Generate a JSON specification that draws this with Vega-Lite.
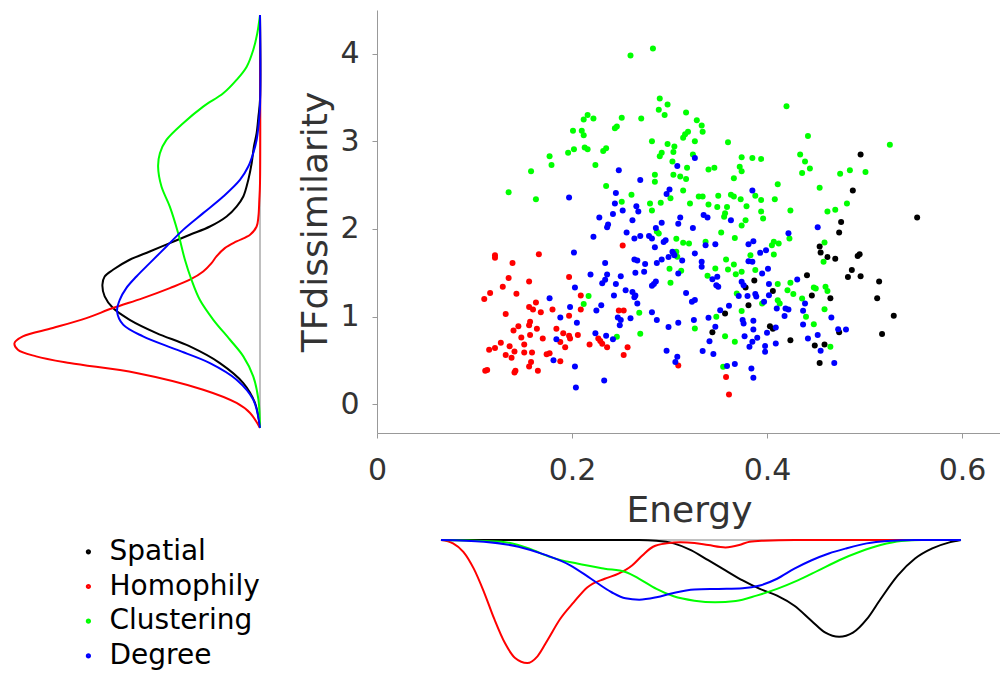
{
"$schema": "https://vega.github.io/schema/vega-lite/v6.json",
"background": "white",
"padding": {"left": 10, "top": 10, "right": 0, "bottom": 0},
"autosize": {"type": "pad"},
"config": {"view": {"stroke": null}, "font": "DejaVu Sans"},
"datasets": {
"points": [
{"model":"Spatial","energy":0.554,"tf":2.13},{"model":"Spatial","energy":0.476,"tf":2.08},{"model":"Spatial","energy":0.474,"tf":1.96},{"model":"Spatial","energy":0.454,"tf":1.80},{"model":"Spatial","energy":0.455,"tf":1.73},{"model":"Spatial","energy":0.462,"tf":1.68},{"model":"Spatial","energy":0.470,"tf":1.66},{"model":"Spatial","energy":0.493,"tf":1.69},{"model":"Spatial","energy":0.495,"tf":1.71},{"model":"Spatial","energy":0.487,"tf":1.53},{"model":"Spatial","energy":0.483,"tf":1.45},{"model":"Spatial","energy":0.496,"tf":1.46},{"model":"Spatial","energy":0.515,"tf":1.40},{"model":"Spatial","energy":0.513,"tf":1.21},{"model":"Spatial","energy":0.530,"tf":1.01},{"model":"Spatial","energy":0.518,"tf":0.80},{"model":"Spatial","energy":0.441,"tf":1.47},{"model":"Spatial","energy":0.446,"tf":1.24},{"model":"Spatial","energy":0.465,"tf":1.21},{"model":"Spatial","energy":0.387,"tf":1.41},{"model":"Spatial","energy":0.378,"tf":1.33},{"model":"Spatial","energy":0.406,"tf":1.29},{"model":"Spatial","energy":0.381,"tf":1.13},{"model":"Spatial","energy":0.357,"tf":1.035},{"model":"Spatial","energy":0.344,"tf":0.82},{"model":"Spatial","energy":0.403,"tf":0.89},{"model":"Spatial","energy":0.406,"tf":0.86},{"model":"Spatial","energy":0.424,"tf":0.73},{"model":"Spatial","energy":0.449,"tf":0.67},{"model":"Spatial","energy":0.459,"tf":0.68},{"model":"Spatial","energy":0.454,"tf":0.47},{"model":"Spatial","energy":0.474,"tf":0.82},{"model":"Spatial","energy":0.496,"tf":2.85},{"model":"Spatial","energy":0.488,"tf":2.44},
{"model":"Homophily","energy":0.121,"tf":1.70},{"model":"Homophily","energy":0.121,"tf":1.67},{"model":"Homophily","energy":0.166,"tf":1.71},{"model":"Homophily","energy":0.139,"tf":1.61},{"model":"Homophily","energy":0.135,"tf":1.44},{"model":"Homophily","energy":0.156,"tf":1.40},{"model":"Homophily","energy":0.129,"tf":1.34},{"model":"Homophily","energy":0.116,"tf":1.27},{"model":"Homophily","energy":0.110,"tf":1.20},{"model":"Homophily","energy":0.143,"tf":1.26},{"model":"Homophily","energy":0.252,"tf":1.81},{"model":"Homophily","energy":0.197,"tf":1.45},{"model":"Homophily","energy":0.209,"tf":1.24},{"model":"Homophily","energy":0.209,"tf":1.08},{"model":"Homophily","energy":0.197,"tf":1.01},{"model":"Homophily","energy":0.163,"tf":1.16},{"model":"Homophily","energy":0.156,"tf":1.11},{"model":"Homophily","energy":0.160,"tf":1.08},{"model":"Homophily","energy":0.168,"tf":1.05},{"model":"Homophily","energy":0.180,"tf":1.08},{"model":"Homophily","energy":0.132,"tf":1.03},{"model":"Homophily","energy":0.157,"tf":0.94},{"model":"Homophily","energy":0.145,"tf":0.89},{"model":"Homophily","energy":0.140,"tf":0.84},{"model":"Homophily","energy":0.156,"tf":0.90},{"model":"Homophily","energy":0.164,"tf":0.86},{"model":"Homophily","energy":0.148,"tf":0.76},{"model":"Homophily","energy":0.157,"tf":0.79},{"model":"Homophily","energy":0.170,"tf":0.75},{"model":"Homophily","energy":0.184,"tf":0.86},{"model":"Homophily","energy":0.191,"tf":0.81},{"model":"Homophily","energy":0.197,"tf":0.78},{"model":"Homophily","energy":0.198,"tf":0.75},{"model":"Homophily","energy":0.206,"tf":0.79},{"model":"Homophily","energy":0.127,"tf":0.70},{"model":"Homophily","energy":0.115,"tf":0.62},{"model":"Homophily","energy":0.121,"tf":0.64},{"model":"Homophily","energy":0.136,"tf":0.66},{"model":"Homophily","energy":0.141,"tf":0.60},{"model":"Homophily","energy":0.151,"tf":0.68},{"model":"Homophily","energy":0.151,"tf":0.59},{"model":"Homophily","energy":0.159,"tf":0.59},{"model":"Homophily","energy":0.132,"tf":0.56},{"model":"Homophily","energy":0.138,"tf":0.53},{"model":"Homophily","energy":0.177,"tf":0.58},{"model":"Homophily","energy":0.174,"tf":0.57},{"model":"Homophily","energy":0.193,"tf":0.65},{"model":"Homophily","energy":0.188,"tf":0.71},{"model":"Homophily","energy":0.218,"tf":0.68},{"model":"Homophily","energy":0.227,"tf":0.75},{"model":"Homophily","energy":0.229,"tf":0.72},{"model":"Homophily","energy":0.231,"tf":0.69},{"model":"Homophily","energy":0.236,"tf":0.65},{"model":"Homophily","energy":0.248,"tf":1.07},{"model":"Homophily","energy":0.253,"tf":1.07},{"model":"Homophily","energy":0.257,"tf":0.65},{"model":"Homophily","energy":0.253,"tf":0.56},{"model":"Homophily","energy":0.188,"tf":0.49},{"model":"Homophily","energy":0.158,"tf":0.48},{"model":"Homophily","energy":0.156,"tf":0.43},{"model":"Homophily","energy":0.165,"tf":0.38},{"model":"Homophily","energy":0.142,"tf":0.38},{"model":"Homophily","energy":0.141,"tf":0.36},{"model":"Homophily","energy":0.113,"tf":0.39},{"model":"Homophily","energy":0.111,"tf":0.38},{"model":"Homophily","energy":0.309,"tf":0.44},{"model":"Homophily","energy":0.358,"tf":0.31},{"model":"Homophily","energy":0.361,"tf":0.11},
{"model":"Clustering","energy":0.260,"tf":3.98},{"model":"Clustering","energy":0.283,"tf":4.06},{"model":"Clustering","energy":0.290,"tf":3.49},{"model":"Clustering","energy":0.298,"tf":3.42},{"model":"Clustering","energy":0.289,"tf":3.36},{"model":"Clustering","energy":0.295,"tf":3.30},{"model":"Clustering","energy":0.317,"tf":3.33},{"model":"Clustering","energy":0.212,"tf":3.25},{"model":"Clustering","energy":0.216,"tf":3.30},{"model":"Clustering","energy":0.222,"tf":3.26},{"model":"Clustering","energy":0.251,"tf":3.27},{"model":"Clustering","energy":0.271,"tf":3.26},{"model":"Clustering","energy":0.201,"tf":3.12},{"model":"Clustering","energy":0.210,"tf":3.12},{"model":"Clustering","energy":0.212,"tf":3.07},{"model":"Clustering","energy":0.244,"tf":3.15},{"model":"Clustering","energy":0.246,"tf":3.17},{"model":"Clustering","energy":0.282,"tf":3.00},{"model":"Clustering","energy":0.314,"tf":3.04},{"model":"Clustering","energy":0.316,"tf":3.08},{"model":"Clustering","energy":0.319,"tf":3.11},{"model":"Clustering","energy":0.326,"tf":3.00},{"model":"Clustering","energy":0.196,"tf":2.87},{"model":"Clustering","energy":0.202,"tf":2.91},{"model":"Clustering","energy":0.213,"tf":2.93},{"model":"Clustering","energy":0.216,"tf":2.91},{"model":"Clustering","energy":0.232,"tf":2.89},{"model":"Clustering","energy":0.235,"tf":2.92},{"model":"Clustering","energy":0.298,"tf":2.97},{"model":"Clustering","energy":0.305,"tf":2.94},{"model":"Clustering","energy":0.292,"tf":2.87},{"model":"Clustering","energy":0.290,"tf":2.83},{"model":"Clustering","energy":0.304,"tf":2.88},{"model":"Clustering","energy":0.324,"tf":2.85},{"model":"Clustering","energy":0.177,"tf":2.83},{"model":"Clustering","energy":0.179,"tf":2.73},{"model":"Clustering","energy":0.224,"tf":2.73},{"model":"Clustering","energy":0.303,"tf":2.77},{"model":"Clustering","energy":0.318,"tf":2.70},{"model":"Clustering","energy":0.158,"tf":2.66},{"model":"Clustering","energy":0.285,"tf":2.62},{"model":"Clustering","energy":0.285,"tf":2.54},{"model":"Clustering","energy":0.304,"tf":2.62},{"model":"Clustering","energy":0.311,"tf":2.60},{"model":"Clustering","energy":0.317,"tf":2.57},{"model":"Clustering","energy":0.235,"tf":2.49},{"model":"Clustering","energy":0.261,"tf":2.39},{"model":"Clustering","energy":0.314,"tf":2.44},{"model":"Clustering","energy":0.135,"tf":2.42},{"model":"Clustering","energy":0.163,"tf":2.34},{"model":"Clustering","energy":0.251,"tf":2.31},{"model":"Clustering","energy":0.280,"tf":2.29},{"model":"Clustering","energy":0.291,"tf":2.30},{"model":"Clustering","energy":0.301,"tf":2.35},{"model":"Clustering","energy":0.321,"tf":2.29},{"model":"Clustering","energy":0.282,"tf":2.21},
{"model":"Clustering","energy":0.420,"tf":3.40},{"model":"Clustering","energy":0.442,"tf":3.06},{"model":"Clustering","energy":0.526,"tf":2.96},{"model":"Clustering","energy":0.328,"tf":3.24},{"model":"Clustering","energy":0.333,"tf":3.18},{"model":"Clustering","energy":0.334,"tf":3.11},{"model":"Clustering","energy":0.360,"tf":2.99},{"model":"Clustering","energy":0.374,"tf":2.82},{"model":"Clustering","energy":0.385,"tf":2.81},{"model":"Clustering","energy":0.394,"tf":2.80},{"model":"Clustering","energy":0.340,"tf":2.68},{"model":"Clustering","energy":0.346,"tf":2.70},{"model":"Clustering","energy":0.372,"tf":2.71},{"model":"Clustering","energy":0.374,"tf":2.66},{"model":"Clustering","energy":0.366,"tf":2.58},{"model":"Clustering","energy":0.434,"tf":2.85},{"model":"Clustering","energy":0.439,"tf":2.77},{"model":"Clustering","energy":0.444,"tf":2.69},{"model":"Clustering","energy":0.436,"tf":2.64},{"model":"Clustering","energy":0.475,"tf":2.63},{"model":"Clustering","energy":0.485,"tf":2.67},{"model":"Clustering","energy":0.501,"tf":2.65},{"model":"Clustering","energy":0.411,"tf":2.51},{"model":"Clustering","energy":0.454,"tf":2.47},{"model":"Clustering","energy":0.482,"tf":2.29},{"model":"Clustering","energy":0.330,"tf":2.37},{"model":"Clustering","energy":0.334,"tf":2.37},{"model":"Clustering","energy":0.350,"tf":2.38},{"model":"Clustering","energy":0.363,"tf":2.39},{"model":"Clustering","energy":0.366,"tf":2.37},{"model":"Clustering","energy":0.373,"tf":2.34},{"model":"Clustering","energy":0.388,"tf":2.38},{"model":"Clustering","energy":0.394,"tf":2.33},{"model":"Clustering","energy":0.408,"tf":2.34},{"model":"Clustering","energy":0.340,"tf":2.28},{"model":"Clustering","energy":0.349,"tf":2.25},{"model":"Clustering","energy":0.359,"tf":2.25},{"model":"Clustering","energy":0.379,"tf":2.26},{"model":"Clustering","energy":0.394,"tf":2.20},{"model":"Clustering","energy":0.424,"tf":2.21},{"model":"Clustering","energy":0.462,"tf":2.20},{"model":"Clustering","energy":0.470,"tf":2.22},{"model":"Clustering","energy":0.357,"tf":2.18},
{"model":"Clustering","energy":0.217,"tf":1.233},{"model":"Clustering","energy":0.212,"tf":1.142},{"model":"Clustering","energy":0.289,"tf":1.948},{"model":"Clustering","energy":0.287,"tf":1.971},{"model":"Clustering","energy":0.307,"tf":1.887},{"model":"Clustering","energy":0.314,"tf":1.842},{"model":"Clustering","energy":0.320,"tf":1.834},{"model":"Clustering","energy":0.307,"tf":1.739},{"model":"Clustering","energy":0.308,"tf":1.682},{"model":"Clustering","energy":0.300,"tf":1.545},{"model":"Clustering","energy":0.312,"tf":1.522},{"model":"Clustering","energy":0.301,"tf":1.385},{"model":"Clustering","energy":0.269,"tf":1.043},{"model":"Clustering","energy":0.270,"tf":0.803},{"model":"Clustering","energy":0.246,"tf":0.769},{"model":"Clustering","energy":0.326,"tf":0.864},
{"model":"Clustering","energy":0.356,"tf":2.14},{"model":"Clustering","energy":0.374,"tf":2.04},{"model":"Clustering","energy":0.378,"tf":2.10},{"model":"Clustering","energy":0.396,"tf":2.12},{"model":"Clustering","energy":0.353,"tf":1.96},{"model":"Clustering","energy":0.367,"tf":1.898},{"model":"Clustering","energy":0.337,"tf":1.853},{"model":"Clustering","energy":0.407,"tf":1.853},{"model":"Clustering","energy":0.412,"tf":1.834},{"model":"Clustering","energy":0.405,"tf":1.815},{"model":"Clustering","energy":0.423,"tf":1.89},{"model":"Clustering","energy":0.407,"tf":1.708},{"model":"Clustering","energy":0.383,"tf":1.70},{"model":"Clustering","energy":0.459,"tf":1.846},{"model":"Clustering","energy":0.458,"tf":1.625},{"model":"Clustering","energy":0.358,"tf":1.652},{"model":"Clustering","energy":0.366,"tf":1.595},{"model":"Clustering","energy":0.360,"tf":1.537},{"model":"Clustering","energy":0.347,"tf":1.549},{"model":"Clustering","energy":0.339,"tf":1.465},{"model":"Clustering","energy":0.368,"tf":1.484},{"model":"Clustering","energy":0.374,"tf":1.511},{"model":"Clustering","energy":0.388,"tf":1.53},{"model":"Clustering","energy":0.411,"tf":1.37},{"model":"Clustering","energy":0.424,"tf":1.385},{"model":"Clustering","energy":0.421,"tf":1.301},{"model":"Clustering","energy":0.427,"tf":1.256},{"model":"Clustering","energy":0.448,"tf":1.332},{"model":"Clustering","energy":0.450,"tf":1.32},{"model":"Clustering","energy":0.460,"tf":1.339},{"model":"Clustering","energy":0.462,"tf":1.29},{"model":"Clustering","energy":0.436,"tf":1.206},{"model":"Clustering","energy":0.411,"tf":1.187},{"model":"Clustering","energy":0.413,"tf":1.149},{"model":"Clustering","energy":0.459,"tf":1.084},{"model":"Clustering","energy":0.440,"tf":0.997},{"model":"Clustering","energy":0.448,"tf":0.913},{"model":"Clustering","energy":0.369,"tf":1.263},{"model":"Clustering","energy":0.395,"tf":1.149},{"model":"Clustering","energy":0.374,"tf":1.062},{"model":"Clustering","energy":0.348,"tf":0.997},{"model":"Clustering","energy":0.357,"tf":0.776},{"model":"Clustering","energy":0.367,"tf":0.711},{"model":"Clustering","energy":0.465,"tf":0.654},{"model":"Clustering","energy":0.355,"tf":0.426},
{"model":"Degree","energy":0.326,"tf":2.81},{"model":"Degree","energy":0.308,"tf":2.72},{"model":"Degree","energy":0.248,"tf":2.67},{"model":"Degree","energy":0.270,"tf":2.56},{"model":"Degree","energy":0.197,"tf":2.36},{"model":"Degree","energy":0.245,"tf":2.41},{"model":"Degree","energy":0.300,"tf":2.45},{"model":"Degree","energy":0.297,"tf":2.40},{"model":"Degree","energy":0.244,"tf":2.29},{"model":"Degree","energy":0.266,"tf":2.26},{"model":"Degree","energy":0.268,"tf":2.20},{"model":"Degree","energy":0.252,"tf":2.21},{"model":"Degree","energy":0.242,"tf":2.17},{"model":"Degree","energy":0.385,"tf":2.44},{"model":"Degree","energy":0.335,"tf":2.16},
{"model":"Degree","energy":0.228,"tf":2.13},{"model":"Degree","energy":0.237,"tf":2.05},{"model":"Degree","energy":0.236,"tf":2.02},{"model":"Degree","energy":0.262,"tf":2.10},{"model":"Degree","energy":0.292,"tf":2.07},{"model":"Degree","energy":0.286,"tf":2.01},{"model":"Degree","energy":0.309,"tf":2.06},{"model":"Degree","energy":0.311,"tf":2.13},{"model":"Degree","energy":0.324,"tf":2.01},{"model":"Degree","energy":0.256,"tf":1.96},{"model":"Degree","energy":0.264,"tf":1.89},{"model":"Degree","energy":0.270,"tf":1.92},{"model":"Degree","energy":0.279,"tf":1.92},{"model":"Degree","energy":0.282,"tf":1.89},{"model":"Degree","energy":0.294,"tf":1.85},{"model":"Degree","energy":0.296,"tf":1.87},{"model":"Degree","energy":0.222,"tf":1.91},{"model":"Degree","energy":0.285,"tf":1.79},{"model":"Degree","energy":0.304,"tf":1.72},{"model":"Degree","energy":0.303,"tf":1.74},{"model":"Degree","energy":0.299,"tf":1.68},{"model":"Degree","energy":0.305,"tf":1.70},{"model":"Degree","energy":0.313,"tf":1.64},{"model":"Degree","energy":0.287,"tf":1.61},{"model":"Degree","energy":0.292,"tf":1.65},{"model":"Degree","energy":0.264,"tf":1.65},{"model":"Degree","energy":0.267,"tf":1.64},{"model":"Degree","energy":0.275,"tf":1.60},{"model":"Degree","energy":0.274,"tf":1.51},{"model":"Degree","energy":0.265,"tf":1.50},{"model":"Degree","energy":0.202,"tf":1.73},{"model":"Degree","energy":0.234,"tf":1.61},{"model":"Degree","energy":0.219,"tf":1.48},{"model":"Degree","energy":0.236,"tf":1.48},{"model":"Degree","energy":0.250,"tf":1.46},{"model":"Degree","energy":0.234,"tf":1.42},{"model":"Degree","energy":0.231,"tf":1.38},{"model":"Degree","energy":0.245,"tf":1.37},{"model":"Degree","energy":0.243,"tf":1.24},{"model":"Degree","energy":0.255,"tf":1.30},{"model":"Degree","energy":0.262,"tf":1.28},{"model":"Degree","energy":0.265,"tf":1.24},{"model":"Degree","energy":0.264,"tf":1.22},{"model":"Degree","energy":0.267,"tf":1.15},{"model":"Degree","energy":0.203,"tf":1.33},{"model":"Degree","energy":0.177,"tf":1.21},{"model":"Degree","energy":0.198,"tf":1.11},{"model":"Degree","energy":0.188,"tf":0.99},{"model":"Degree","energy":0.205,"tf":0.93},{"model":"Degree","energy":0.230,"tf":1.13},{"model":"Degree","energy":0.225,"tf":1.07},{"model":"Degree","energy":0.247,"tf":0.99},{"model":"Degree","energy":0.250,"tf":0.96},{"model":"Degree","energy":0.249,"tf":0.90},{"model":"Degree","energy":0.260,"tf":0.98},{"model":"Degree","energy":0.282,"tf":1.05},{"model":"Degree","energy":0.287,"tf":0.96},{"model":"Degree","energy":0.299,"tf":0.88},{"model":"Degree","energy":0.309,"tf":0.93},{"model":"Degree","energy":0.325,"tf":0.96},{"model":"Degree","energy":0.286,"tf":1.40},{"model":"Degree","energy":0.284,"tf":1.37},{"model":"Degree","energy":0.282,"tf":1.35},{"model":"Degree","energy":0.309,"tf":1.49},{"model":"Degree","energy":0.317,"tf":1.27},{"model":"Degree","energy":0.326,"tf":1.19},{"model":"Degree","energy":0.323,"tf":1.17},{"model":"Degree","energy":0.224,"tf":0.81},{"model":"Degree","energy":0.235,"tf":0.78},{"model":"Degree","energy":0.242,"tf":0.74},{"model":"Degree","energy":0.184,"tf":0.74},{"model":"Degree","energy":0.181,"tf":0.50},{"model":"Degree","energy":0.203,"tf":0.43},{"model":"Degree","energy":0.204,"tf":0.19},{"model":"Degree","energy":0.233,"tf":0.27},{"model":"Degree","energy":0.297,"tf":0.61},{"model":"Degree","energy":0.308,"tf":0.54},{"model":"Degree","energy":0.306,"tf":0.48},
{"model":"Degree","energy":0.339,"tf":2.13},{"model":"Degree","energy":0.363,"tf":2.10},{"model":"Degree","energy":0.452,"tf":2.02},{"model":"Degree","energy":0.422,"tf":1.95},{"model":"Degree","energy":0.337,"tf":1.815},{"model":"Degree","energy":0.347,"tf":1.826},{"model":"Degree","energy":0.326,"tf":1.72},{"model":"Degree","energy":0.333,"tf":1.625},{"model":"Degree","energy":0.333,"tf":1.567},{"model":"Degree","energy":0.381,"tf":1.826},{"model":"Degree","energy":0.386,"tf":1.86},{"model":"Degree","energy":0.393,"tf":1.727},{"model":"Degree","energy":0.399,"tf":1.758},{"model":"Degree","energy":0.381,"tf":1.632},{"model":"Degree","energy":0.385,"tf":1.625},{"model":"Degree","energy":0.401,"tf":1.545},{"model":"Degree","energy":0.395,"tf":1.492},{"model":"Degree","energy":0.344,"tf":1.427},{"model":"Degree","energy":0.349,"tf":1.453},{"model":"Degree","energy":0.348,"tf":1.358},{"model":"Degree","energy":0.350,"tf":1.339},{"model":"Degree","energy":0.374,"tf":1.396},{"model":"Degree","energy":0.376,"tf":1.358},{"model":"Degree","energy":0.402,"tf":1.37},{"model":"Degree","energy":0.431,"tf":1.423},{"model":"Degree","energy":0.371,"tf":1.233},{"model":"Degree","energy":0.380,"tf":1.233},{"model":"Degree","energy":0.388,"tf":1.256},{"model":"Degree","energy":0.389,"tf":1.23},{"model":"Degree","energy":0.397,"tf":1.168},{"model":"Degree","energy":0.402,"tf":1.244},{"model":"Degree","energy":0.410,"tf":1.092},{"model":"Degree","energy":0.419,"tf":1.092},{"model":"Degree","energy":0.422,"tf":1.081},{"model":"Degree","energy":0.418,"tf":1.005},{"model":"Degree","energy":0.437,"tf":1.065},{"model":"Degree","energy":0.439,"tf":1.149},{"model":"Degree","energy":0.466,"tf":0.989},{"model":"Degree","energy":0.361,"tf":1.122},{"model":"Degree","energy":0.352,"tf":1.073},{"model":"Degree","energy":0.340,"tf":0.985},{"model":"Degree","energy":0.375,"tf":0.959},{"model":"Degree","energy":0.376,"tf":0.921},{"model":"Degree","energy":0.386,"tf":0.951},{"model":"Degree","energy":0.386,"tf":0.852},{"model":"Degree","energy":0.400,"tf":0.814},{"model":"Degree","energy":0.409,"tf":0.875},{"model":"Degree","energy":0.437,"tf":0.91},{"model":"Degree","energy":0.347,"tf":0.883},{"model":"Degree","energy":0.341,"tf":0.719},{"model":"Degree","energy":0.377,"tf":0.776},{"model":"Degree","energy":0.390,"tf":0.757},{"model":"Degree","energy":0.385,"tf":0.711},{"model":"Degree","energy":0.382,"tf":0.654},{"model":"Degree","energy":0.398,"tf":0.662},{"model":"Degree","energy":0.398,"tf":0.597},{"model":"Degree","energy":0.409,"tf":0.693},{"model":"Degree","energy":0.334,"tf":0.605},{"model":"Degree","energy":0.345,"tf":0.571},{"model":"Degree","energy":0.442,"tf":0.75},{"model":"Degree","energy":0.452,"tf":0.788},{"model":"Degree","energy":0.473,"tf":0.856},{"model":"Degree","energy":0.481,"tf":0.852},{"model":"Degree","energy":0.455,"tf":0.609},{"model":"Degree","energy":0.469,"tf":0.468},{"model":"Degree","energy":0.359,"tf":0.434},{"model":"Degree","energy":0.367,"tf":0.457},{"model":"Degree","energy":0.384,"tf":0.407},{"model":"Degree","energy":0.386,"tf":0.30}
],
"tfDensity": [
{"model":"Spatial","tf":0.11,"density":0},{"model":"Spatial","tf":0.349,"density":0.022},{"model":"Spatial","tf":0.54,"density":0.074},{"model":"Spatial","tf":0.731,"density":0.178},{"model":"Spatial","tf":0.89,"density":0.311},{"model":"Spatial","tf":1.018,"density":0.459},{"model":"Spatial","tf":1.145,"density":0.578},{"model":"Spatial","tf":1.257,"density":0.652},{"model":"Spatial","tf":1.368,"density":0.689},{"model":"Spatial","tf":1.48,"density":0.699},{"model":"Spatial","tf":1.559,"density":0.689},{"model":"Spatial","tf":1.623,"density":0.652},{"model":"Spatial","tf":1.719,"density":0.578},{"model":"Spatial","tf":1.798,"density":0.489},{"model":"Spatial","tf":1.878,"density":0.4},{"model":"Spatial","tf":1.958,"density":0.311},{"model":"Spatial","tf":2.037,"density":0.222},{"model":"Spatial","tf":2.133,"density":0.148},{"model":"Spatial","tf":2.228,"density":0.104},{"model":"Spatial","tf":2.324,"density":0.074},{"model":"Spatial","tf":2.483,"density":0.052},{"model":"Spatial","tf":2.642,"density":0.037},{"model":"Spatial","tf":2.802,"density":0.027},{"model":"Spatial","tf":2.929,"density":0.015},{"model":"Spatial","tf":3.088,"density":0.007},{"model":"Spatial","tf":3.248,"density":0},{"model":"Spatial","tf":4.06,"density":0},
{"model":"Homophily","tf":0.11,"density":0},{"model":"Homophily","tf":0.253,"density":0.044},{"model":"Homophily","tf":0.349,"density":0.104},{"model":"Homophily","tf":0.476,"density":0.252},{"model":"Homophily","tf":0.636,"density":0.548},{"model":"Homophily","tf":0.731,"density":0.844},{"model":"Homophily","tf":0.795,"density":0.993},{"model":"Homophily","tf":0.859,"density":1.074},{"model":"Homophily","tf":0.922,"density":1.089},{"model":"Homophily","tf":0.986,"density":1.052},{"model":"Homophily","tf":1.066,"density":0.919},{"model":"Homophily","tf":1.161,"density":0.77},{"model":"Homophily","tf":1.257,"density":0.652},{"model":"Homophily","tf":1.352,"density":0.519},{"model":"Homophily","tf":1.448,"density":0.4},{"model":"Homophily","tf":1.528,"density":0.311},{"model":"Homophily","tf":1.607,"density":0.252},{"model":"Homophily","tf":1.687,"density":0.215},{"model":"Homophily","tf":1.751,"density":0.193},{"model":"Homophily","tf":1.83,"density":0.156},{"model":"Homophily","tf":1.894,"density":0.104},{"model":"Homophily","tf":1.958,"density":0.044},{"model":"Homophily","tf":2.037,"density":0.015},{"model":"Homophily","tf":2.133,"density":0.007},{"model":"Homophily","tf":2.292,"density":0.003},{"model":"Homophily","tf":2.451,"density":0},{"model":"Homophily","tf":4.06,"density":0},
{"model":"Clustering","tf":0.11,"density":0},{"model":"Clustering","tf":0.381,"density":0.007},{"model":"Clustering","tf":0.604,"density":0.03},{"model":"Clustering","tf":0.795,"density":0.074},{"model":"Clustering","tf":0.954,"density":0.133},{"model":"Clustering","tf":1.145,"density":0.207},{"model":"Clustering","tf":1.336,"density":0.267},{"model":"Clustering","tf":1.528,"density":0.304},{"model":"Clustering","tf":1.719,"density":0.333},{"model":"Clustering","tf":1.973,"density":0.363},{"model":"Clustering","tf":2.228,"density":0.4},{"model":"Clustering","tf":2.419,"density":0.437},{"model":"Clustering","tf":2.611,"density":0.452},{"model":"Clustering","tf":2.738,"density":0.444},{"model":"Clustering","tf":2.865,"density":0.415},{"model":"Clustering","tf":3.025,"density":0.341},{"model":"Clustering","tf":3.184,"density":0.252},{"model":"Clustering","tf":3.311,"density":0.163},{"model":"Clustering","tf":3.439,"density":0.104},{"model":"Clustering","tf":3.566,"density":0.059},{"model":"Clustering","tf":3.726,"density":0.03},{"model":"Clustering","tf":3.885,"density":0.012},{"model":"Clustering","tf":4.012,"density":0.003},{"model":"Clustering","tf":4.06,"density":0},
{"model":"Degree","tf":0.11,"density":0},{"model":"Degree","tf":0.381,"density":0.03},{"model":"Degree","tf":0.572,"density":0.104},{"model":"Degree","tf":0.731,"density":0.222},{"model":"Degree","tf":0.859,"density":0.37},{"model":"Degree","tf":0.986,"density":0.519},{"model":"Degree","tf":1.098,"density":0.607},{"model":"Degree","tf":1.225,"density":0.634},{"model":"Degree","tf":1.336,"density":0.622},{"model":"Degree","tf":1.448,"density":0.593},{"model":"Degree","tf":1.559,"density":0.548},{"model":"Degree","tf":1.687,"density":0.489},{"model":"Degree","tf":1.846,"density":0.415},{"model":"Degree","tf":2.005,"density":0.341},{"model":"Degree","tf":2.165,"density":0.252},{"model":"Degree","tf":2.324,"density":0.163},{"model":"Degree","tf":2.483,"density":0.089},{"model":"Degree","tf":2.611,"density":0.052},{"model":"Degree","tf":2.738,"density":0.03},{"model":"Degree","tf":2.865,"density":0.015},{"model":"Degree","tf":2.993,"density":0.007},{"model":"Degree","tf":3.184,"density":0},{"model":"Degree","tf":4.06,"density":0}
],
"energyDensity": [
{"model":"Spatial","energy":0.11,"density":0},{"model":"Spatial","energy":0.2793,"density":0},{"model":"Spatial","energy":0.294,"density":0.056},{"model":"Spatial","energy":0.3087,"density":0.278},{"model":"Spatial","energy":0.3234,"density":0.833},{"model":"Spatial","energy":0.3382,"density":1.667},{"model":"Spatial","energy":0.3529,"density":2.5},{"model":"Spatial","energy":0.3676,"density":3.333},{"model":"Spatial","energy":0.3823,"density":4.028},{"model":"Spatial","energy":0.397,"density":4.583},{"model":"Spatial","energy":0.4118,"density":5.417},{"model":"Spatial","energy":0.4265,"density":6.667},{"model":"Spatial","energy":0.4383,"density":7.639},{"model":"Spatial","energy":0.45,"density":7.972},{"model":"Spatial","energy":0.4618,"density":7.639},{"model":"Spatial","energy":0.4736,"density":6.528},{"model":"Spatial","energy":0.4854,"density":4.861},{"model":"Spatial","energy":0.5001,"density":2.917},{"model":"Spatial","energy":0.5148,"density":1.528},{"model":"Spatial","energy":0.5295,"density":0.694},{"model":"Spatial","energy":0.5442,"density":0.194},{"model":"Spatial","energy":0.554,"density":0},
{"model":"Homophily","energy":0.11,"density":0},{"model":"Homophily","energy":0.1203,"density":0.278},{"model":"Homophily","energy":0.1291,"density":0.972},{"model":"Homophily","energy":0.138,"density":2.361},{"model":"Homophily","energy":0.1468,"density":4.306},{"model":"Homophily","energy":0.1556,"density":6.528},{"model":"Homophily","energy":0.1645,"density":8.472},{"model":"Homophily","energy":0.1733,"density":9.722},{"model":"Homophily","energy":0.1836,"density":10.139},{"model":"Homophily","energy":0.1924,"density":9.583},{"model":"Homophily","energy":0.2013,"density":8.194},{"model":"Homophily","energy":0.2116,"density":6.528},{"model":"Homophily","energy":0.2233,"density":5.139},{"model":"Homophily","energy":0.2351,"density":3.889},{"model":"Homophily","energy":0.2498,"density":3.194},{"model":"Homophily","energy":0.2616,"density":2.778},{"model":"Homophily","energy":0.2734,"density":2.083},{"model":"Homophily","energy":0.2822,"density":1.25},{"model":"Homophily","energy":0.2911,"density":0.556},{"model":"Homophily","energy":0.3028,"density":0.278},{"model":"Homophily","energy":0.3146,"density":0.194},{"model":"Homophily","energy":0.3264,"density":0.25},{"model":"Homophily","energy":0.3382,"density":0.417},{"model":"Homophily","energy":0.3529,"density":0.611},{"model":"Homophily","energy":0.3647,"density":0.417},{"model":"Homophily","energy":0.3735,"density":0.139},{"model":"Homophily","energy":0.3853,"density":0.056},{"model":"Homophily","energy":0.4118,"density":0},{"model":"Homophily","energy":0.554,"density":0},
{"model":"Clustering","energy":0.11,"density":0},{"model":"Clustering","energy":0.1615,"density":0.139},{"model":"Clustering","energy":0.1851,"density":0.694},{"model":"Clustering","energy":0.2027,"density":1.389},{"model":"Clustering","energy":0.2263,"density":1.944},{"model":"Clustering","energy":0.2498,"density":2.361},{"model":"Clustering","energy":0.2675,"density":2.639},{"model":"Clustering","energy":0.2793,"density":3.194},{"model":"Clustering","energy":0.294,"density":4.028},{"model":"Clustering","energy":0.3087,"density":4.639},{"model":"Clustering","energy":0.3264,"density":5.0},{"model":"Clustering","energy":0.344,"density":5.139},{"model":"Clustering","energy":0.3617,"density":5.028},{"model":"Clustering","energy":0.3794,"density":4.583},{"model":"Clustering","energy":0.397,"density":4.028},{"model":"Clustering","energy":0.4147,"density":3.333},{"model":"Clustering","energy":0.4324,"density":2.5},{"model":"Clustering","energy":0.45,"density":1.667},{"model":"Clustering","energy":0.4677,"density":0.972},{"model":"Clustering","energy":0.4854,"density":0.417},{"model":"Clustering","energy":0.503,"density":0.083},{"model":"Clustering","energy":0.5207,"density":0},{"model":"Clustering","energy":0.554,"density":0},
{"model":"Degree","energy":0.11,"density":0},{"model":"Degree","energy":0.1468,"density":0.139},{"model":"Degree","energy":0.1762,"density":0.556},{"model":"Degree","energy":0.1998,"density":1.25},{"model":"Degree","energy":0.2204,"density":2.083},{"model":"Degree","energy":0.2381,"density":3.194},{"model":"Degree","energy":0.2557,"density":4.306},{"model":"Degree","energy":0.2675,"density":4.806},{"model":"Degree","energy":0.2793,"density":4.917},{"model":"Degree","energy":0.294,"density":4.722},{"model":"Degree","energy":0.3087,"density":4.361},{"model":"Degree","energy":0.3264,"density":4.083},{"model":"Degree","energy":0.347,"density":4.028},{"model":"Degree","energy":0.3676,"density":3.972},{"model":"Degree","energy":0.3823,"density":3.75},{"model":"Degree","energy":0.397,"density":3.194},{"model":"Degree","energy":0.4118,"density":2.361},{"model":"Degree","energy":0.4265,"density":1.667},{"model":"Degree","energy":0.4412,"density":1.111},{"model":"Degree","energy":0.4559,"density":0.694},{"model":"Degree","energy":0.4736,"density":0.278},{"model":"Degree","energy":0.4912,"density":0.083},{"model":"Degree","energy":0.5148,"density":0},{"model":"Degree","energy":0.554,"density":0}
]
},
"spacing": 7,
"resolve": {"legend": {"color": "independent"}},
"vconcat": [
{
"bounds": "flush",
"spacing": 117,
"hconcat": [
{
"width": 248, "height": 423,
"data": {"name": "tfDensity"},
"layer": [
{"mark": {"type": "rule", "color": "#808080", "strokeWidth": 1},
 "encoding": {
  "x": {"datum": 0, "type": "quantitative", "scale": {"domain": [0, 1.1], "reverse": true, "nice": false, "zero": false}, "axis": null},
  "y": {"aggregate": "min", "field": "tf", "type": "quantitative", "scale": {"domain": [0.062, 4.108], "nice": false, "zero": false}, "axis": null},
  "y2": {"aggregate": "max", "field": "tf"}
 }},
{"mark": {"type": "line", "strokeWidth": 2, "interpolate": "catmull-rom"},
 "encoding": {
  "x": {"field": "density", "type": "quantitative", "scale": {"domain": [0, 1.1], "reverse": true, "nice": false, "zero": false}, "axis": null},
  "y": {"field": "tf", "type": "quantitative", "scale": {"domain": [0.062, 4.108], "nice": false, "zero": false}, "axis": null},
  "order": {"field": "tf", "type": "quantitative"},
  "color": {"field": "model", "type": "nominal", "scale": {"domain": ["Spatial", "Homophily", "Clustering", "Degree"], "range": ["#000000", "#ff0000", "#00ff00", "#0000ff"]}, "legend": null}
 }}
]
},
{
"width": 624, "height": 423,
"data": {"name": "points"},
"mark": {"type": "circle", "size": 36, "opacity": 1},
"encoding": {
 "x": {"field": "energy", "type": "quantitative", "scale": {"domain": [0, 0.64], "nice": false, "zero": false},
  "axis": {"title": "Energy", "values": [0, 0.2, 0.4, 0.6], "format": "~g", "grid": false, "labelFlush": false,
   "domainColor": "#999999", "tickColor": "#999999", "tickSize": 5, "labelFont": "DejaVu Sans", "labelFontSize": 30, "labelColor": "#333333", "labelPadding": 17.5,
   "titleFont": "DejaVu Sans", "titleFontSize": 36, "titleFontWeight": "normal", "titleColor": "#333333", "titlePadding": 8}},
 "y": {"field": "tf", "type": "quantitative", "scale": {"domain": [-0.33, 4.5], "nice": false, "zero": false},
  "axis": {"title": "TFdissimilarity", "values": [0, 1, 2, 3, 4], "format": "d", "grid": false, "labelFlush": false,
   "domainColor": "#999999", "tickColor": "#999999", "tickSize": 5, "labelFont": "DejaVu Sans", "labelFontSize": 30, "labelColor": "#333333", "labelPadding": 13,
   "titleFont": "DejaVu Sans", "titleFontSize": 36, "titleFontWeight": "normal", "titleColor": "#333333", "titlePadding": 5}},
 "color": {"field": "model", "type": "nominal", "scale": {"domain": ["Spatial", "Homophily", "Clustering", "Degree"], "range": ["#000000", "#ff0000", "#00ff00", "#0000ff"]}, "legend": null}
}
}
]
},
{
"width": 989, "height": 125,
"data": {"name": "energyDensity"},
"layer": [
{"mark": {"type": "rule", "color": "#808080", "strokeWidth": 1},
 "encoding": {
  "y": {"datum": 0, "type": "quantitative", "scale": {"domain": [0, 10.3], "reverse": true, "nice": false, "zero": false}, "axis": null},
  "x": {"aggregate": "min", "field": "energy", "type": "quantitative", "scale": {"domain": [-0.2563, 0.5882], "nice": false, "zero": false}, "axis": null},
  "x2": {"aggregate": "max", "field": "energy"}
 }},
{"mark": {"type": "line", "strokeWidth": 2, "interpolate": "monotone"},
 "encoding": {
  "x": {"field": "energy", "type": "quantitative", "scale": {"domain": [-0.2563, 0.5882], "nice": false, "zero": false}, "axis": null},
  "y": {"field": "density", "type": "quantitative", "scale": {"domain": [0, 10.3], "reverse": true, "nice": false, "zero": false}, "axis": null},
  "color": {"field": "model", "type": "nominal", "scale": {"domain": ["Spatial", "Homophily", "Clustering", "Degree"], "range": ["#000000", "#ff0000", "#00ff00", "#0000ff"]},
   "legend": {"orient": "none", "legendX": 62.4, "legendY": -2.2, "title": null, "padding": 0, "labelFont": "DejaVu Sans", "labelFontSize": 28, "labelColor": "#000000", "labelLimit": 0, "symbolType": "circle", "symbolSize": 8, "symbolStrokeWidth": 2.4, "rowPadding": 6.7, "labelOffset": 7.1}}
 }}
]
}
]
}
